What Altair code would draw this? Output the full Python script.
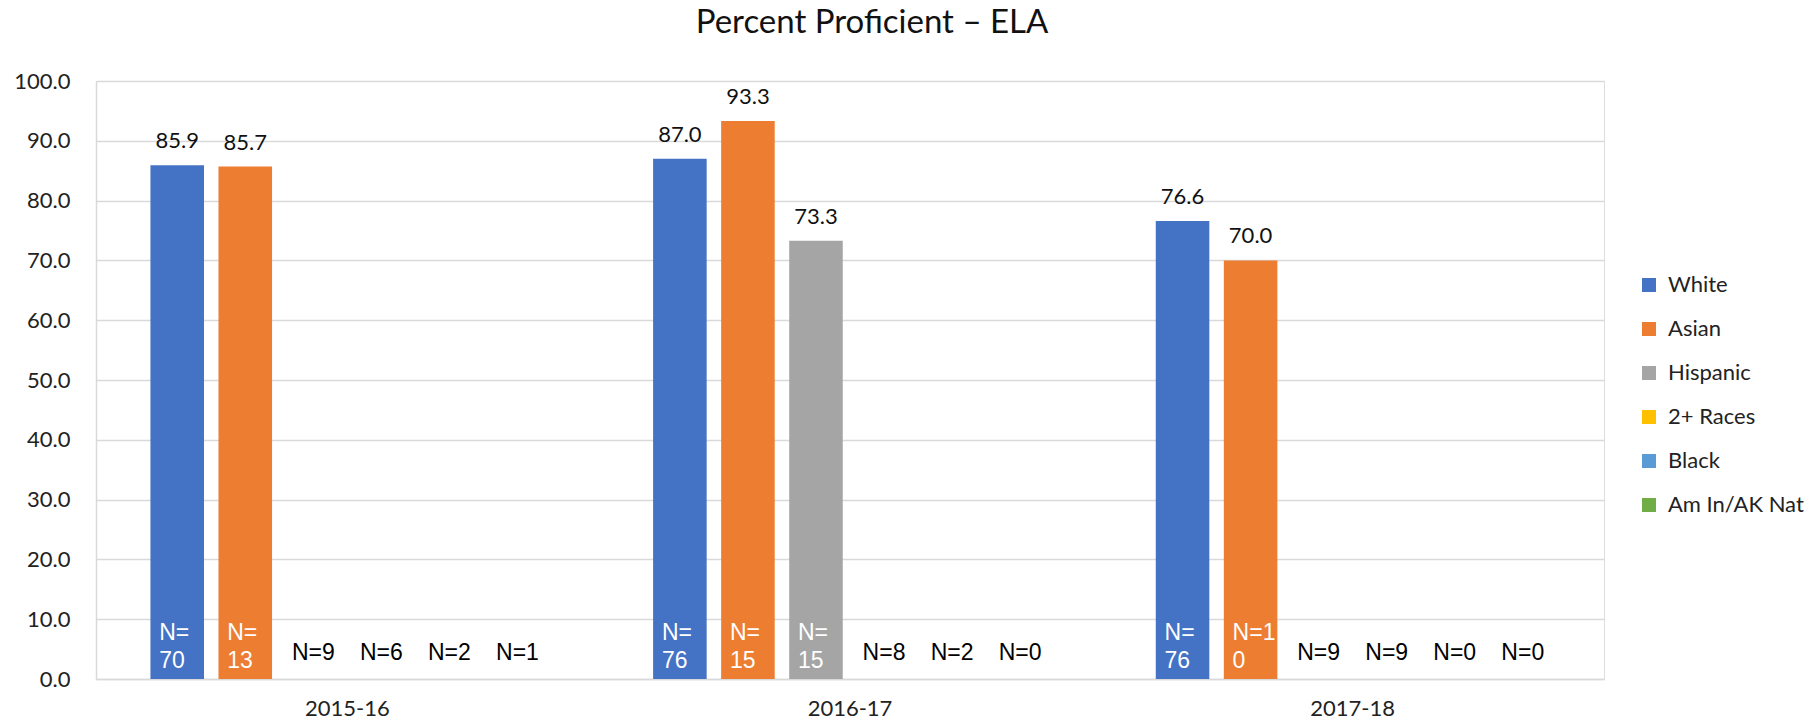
import altair as alt
import pandas as pd

# Categories and series
years = ["2015-16", "2016-17", "2017-18"]
groups = ["White", "Asian", "Hispanic", "2+ Races", "Black", "Am In/AK Nat"]
colors = ["#4472C4", "#ED7D31", "#A5A5A5", "#FFC000", "#5B9BD5", "#70AD47"]

# Percent proficient per year (None = suppressed, small N)
pct_2015 = [85.9, 85.7, None, None, None, None]
pct_2016 = [87.0, 93.3, 73.3, None, None, None]
pct_2017 = [76.6, 70.0, None, None, None, None]

# Student counts per year
n_2015 = [70, 13, 9, 6, 2, 1]
n_2016 = [76, 15, 15, 8, 2, 0]
n_2017 = [76, 10, 9, 9, 0, 0]

# Count labels shown inside bars wrap onto two lines
in_bar_labels = {
    ("2015-16", "White"): "N=\n70",
    ("2015-16", "Asian"): "N=\n13",
    ("2016-17", "White"): "N=\n76",
    ("2016-17", "Asian"): "N=\n15",
    ("2016-17", "Hispanic"): "N=\n15",
    ("2017-18", "White"): "N=\n76",
    ("2017-18", "Asian"): "N=1\n0",
}

rows = []
for year, pcts, ns in zip(years, [pct_2015, pct_2016, pct_2017], [n_2015, n_2016, n_2017]):
    for g, v, n in zip(groups, pcts, ns):
        label = in_bar_labels.get((year, g), f"N={n}")
        rows.append({"year": year, "group": g, "value": v, "n": n, "nlabel": label})
df = pd.DataFrame(rows)

LABEL_FONT = "Lato"
N_FONT = "Liberation Sans"

x_enc = alt.X(
    "year:N",
    sort=years,
    title=None,
    scale=alt.Scale(paddingInner=0, paddingOuter=0),
    axis=alt.Axis(
        labelAngle=0,
        labelFontSize=22,
        labelFont=LABEL_FONT,
        labelColor="#222222",
        labelPadding=19,
        ticks=False,
        domainColor="#d9d9d9",
        domainWidth=1.5,
    ),
)
xoff_enc = alt.XOffset(
    "group:N",
    sort=groups,
    scale=alt.Scale(domain=groups, paddingInner=0.213, paddingOuter=0.80),
)
y_scale = alt.Scale(domain=[0, 100], nice=False, zero=True)

base = alt.Chart(df).encode(x=x_enc, xOffset=xoff_enc)

bars = base.transform_filter("datum.value != null").mark_bar().encode(
    y=alt.Y(
        "value:Q",
        scale=y_scale,
        title=None,
        axis=alt.Axis(
            values=list(range(0, 101, 10)),
            format=".1f",
            labelFontSize=22,
            labelFont=LABEL_FONT,
            labelColor="#222222",
            labelPadding=26,
            ticks=False,
            domainColor="#d9d9d9",
            domainWidth=1.5,
            gridColor="#d9d9d9",
            gridWidth=1.5,
        ),
    ),
    color=alt.Color(
        "group:N",
        scale=alt.Scale(domain=groups, range=colors),
        legend=alt.Legend(
            title=None,
            orient="none",
            legendX=1542,
            legendY=193,
            symbolType="square",
            symbolSize=196,
            symbolStrokeWidth=0,
            labelFontSize=22,
            labelFont=LABEL_FONT,
            labelColor="#222222",
            rowPadding=22,
            labelOffset=8,
        ),
    ),
)

value_labels = base.transform_filter("datum.value != null").mark_text(
    baseline="alphabetic", dy=-17, fontSize=22, font=LABEL_FONT, color="#111111"
).encode(
    y=alt.Y("value:Q", scale=y_scale),
    text=alt.Text("value:Q", format=".1f"),
)

n_in_bar = base.transform_filter("datum.value != null").mark_text(
    align="left", baseline="alphabetic", dx=-18, dy=-39, fontSize=23,
    lineHeight=28, lineBreak="\n", font=N_FONT, color="white",
).encode(
    y=alt.datum(0, scale=y_scale),
    text="nlabel:N",
)

n_outside = base.transform_filter("datum.value == null").mark_text(
    align="center", baseline="alphabetic", dy=-19, fontSize=23,
    font=N_FONT, color="#000000",
).encode(
    y=alt.datum(0, scale=y_scale),
    text="nlabel:N",
)

chart = (
    alt.layer(bars, value_labels, n_in_bar, n_outside)
    .properties(
        width=1508,
        height=598,
        autosize="none",
        padding={"left": 96, "top": 81, "right": 208, "bottom": 45},
        title=alt.TitleParams(
            "Percent Proficient – ELA",
            fontSize=33,
            font=LABEL_FONT,
            fontWeight="normal",
            color="#111111",
            anchor="middle",
            dx=22,
            offset=30,
        ),
    )
    .configure_view(stroke=None)
    .configure(background="white")
)

chart.save("out.html", embed_options={"renderer": "svg", "actions": False})
